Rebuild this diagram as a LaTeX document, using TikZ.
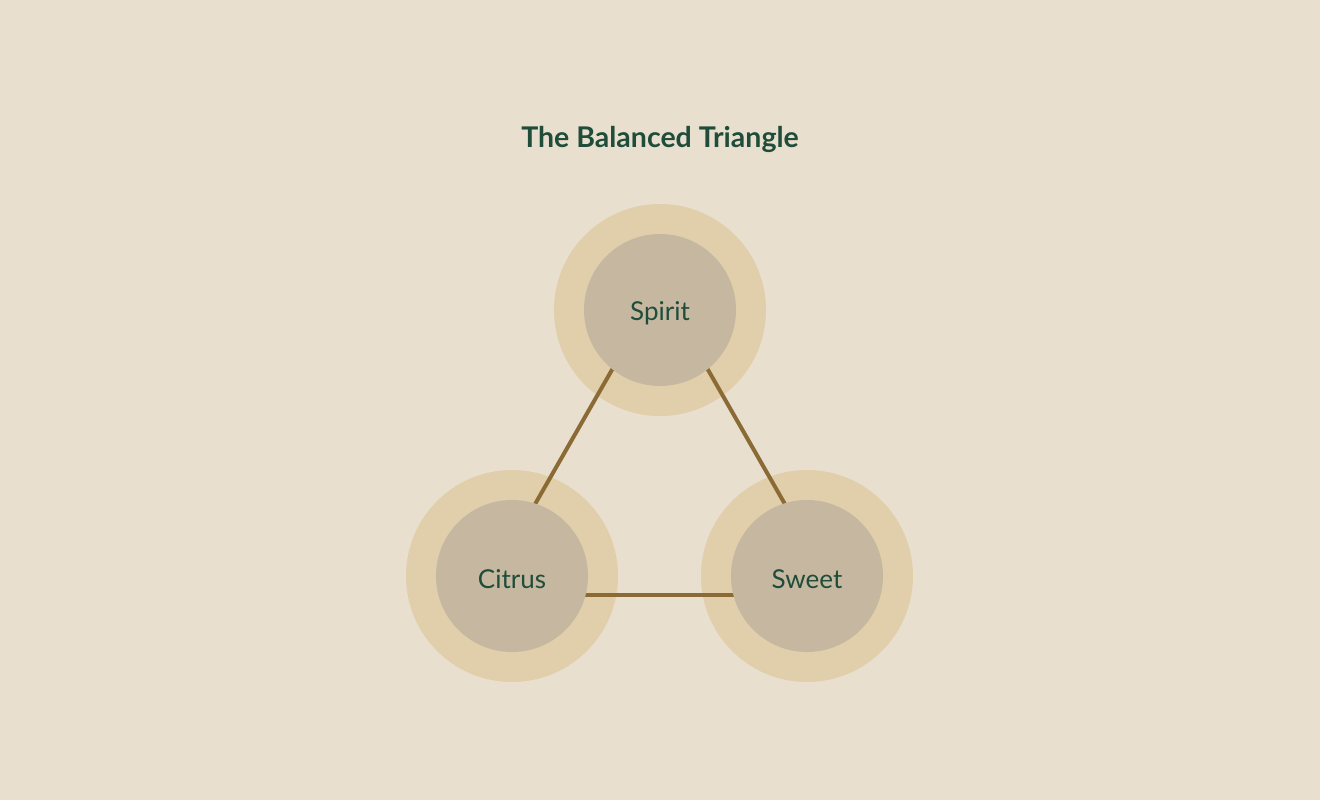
\documentclass[tikz,border=0pt]{standalone}
\usepackage{fontspec}
\setmainfont{Lato}
\usepackage{tikz}
\usetikzlibrary{positioning}

\definecolor{paper}{HTML}{E9DFCF}
\definecolor{ringtan}{HTML}{E0CFAA}
\definecolor{cupgrey}{HTML}{C6B7A1}
\definecolor{barkbrown}{HTML}{8B6B35}
\definecolor{leafgreen}{HTML}{1F4D3A}

\begin{document}
\begin{tikzpicture}[
    x=1pt, y=-1pt,
    halo/.style={circle, fill=ringtan, minimum size=212pt, inner sep=0pt},
    taste/.style={circle, fill=cupgrey, minimum size=152pt, inner sep=0pt, text=leafgreen, font=\fontsize{26}{30}\selectfont},
    link/.style={draw=barkbrown, line width=4pt}
]
    % Background
    \fill[paper] (0,0) rectangle (1320,800);
    \useasboundingbox (0,0) rectangle (1320,800);

    % Title
    \node[text=leafgreen, font=\bfseries\fontsize{28.5}{32}\selectfont] (title) at (660,139) {The Balanced Triangle};

    % Outer rings
    \node[halo] (spiritring) at (660,310) {};
    \node[halo] (citrusring) at (512,576) {};
    \node[halo] (sweetring) at (807,576) {};

    % Triangle
    \coordinate (apex) at (660,286);
    \coordinate (baseleft) at (483,595);
    \coordinate (baseright) at (837,595);
    \draw[link] (apex) -- (baseleft);
    \draw[link] (baseleft) -- (baseright);
    \draw[link] (baseright) -- (apex);

    % Ingredients
    \node[taste] (spirit) at (spiritring) {};
    \node[taste] (citrus) at (citrusring) {};
    \node[taste] (sweet) at (sweetring) {};
    \node[text=leafgreen, font=\fontsize{26}{30}\selectfont] at ([yshift=-3pt]spirit) {Spirit};
    \node[text=leafgreen, font=\fontsize{26}{30}\selectfont] at ([yshift=-3pt]citrus) {Citrus};
    \node[text=leafgreen, font=\fontsize{26}{30}\selectfont] at ([yshift=-3pt]sweet) {Sweet};
\end{tikzpicture}
\end{document}
